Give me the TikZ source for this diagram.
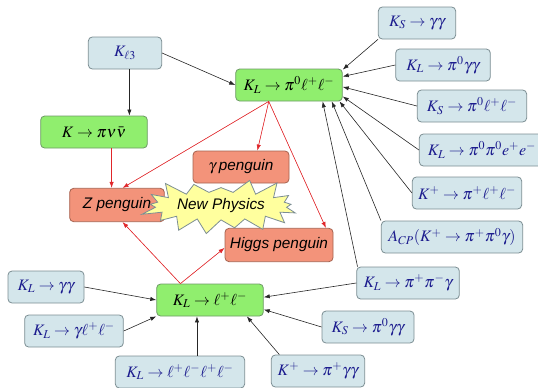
\documentclass[tikz,border=0pt]{standalone}
\usepackage{mathptmx}
\usepackage[no-math]{fontspec}
\setmainfont{Liberation Serif}
\newfontfamily\pengfont{Liberation Sans}
\usetikzlibrary{arrows.meta,shapes.symbols}
\definecolor{boxfill}{HTML}{D4E6EB}
\definecolor{boxedge}{HTML}{7C8E93}
\definecolor{kblue}{HTML}{1C1C8E}
\definecolor{greenfill}{HTML}{90EE6E}
\definecolor{greenedge}{HTML}{6E9A66}
\definecolor{salmon}{HTML}{F3937A}
\definecolor{salmonedge}{HTML}{A5624F}
\definecolor{starfill}{HTML}{FFFF9E}
\definecolor{redline}{HTML}{E0262A}
\tikzset{
  kbox/.style={draw=boxedge, fill=boxfill, text=kblue, rounded corners=3pt, line width=.6pt, minimum height=24pt, inner sep=2pt, font=\large},
  gbox/.style={kbox, fill=greenfill, draw=greenedge, text=black},
  pbox/.style={kbox, fill=salmon, draw=salmonedge, text=black, font=\pengfont\itshape\fontsize{11.5}{13}\selectfont},
  ar/.style={-{Latex[length=4.5pt,width=3.2pt]}, line width=.45pt, draw=black!85},
  rar/.style={ar, draw=redline, fill=redline},
}
\begin{document}
\begin{tikzpicture}[x=0.75pt,y=-0.75pt]
\useasboundingbox (0,0) rectangle (538,387);
% central decays
\node[gbox, minimum width=80pt] (klpi) at (289,85) {$K_L\to\pi^0\ell^+\ell^-$};
\node[gbox, minimum width=80pt] (klll) at (210,300) {$K_L\to\ell^+\ell^-$};
\node[gbox, minimum width=80pt] (kpnn) at (94,132) {$K\to\pi\nu\bar{\nu}$};
% inputs
\node[kbox, minimum width=55pt] (kl3) at (125,53) {$K_{\ell 3}$};
\node[kbox, minimum width=58pt] (ksgg) at (417,23) {$K_S\to\gamma\gamma$};
\node[kbox, minimum width=71pt] (klp0gg) at (443,65) {$K_L\to\pi^0\gamma\gamma$};
\node[kbox, minimum width=82pt] (ksp0ll) at (472,106) {$K_S\to\pi^0\ell^+\ell^-$};
\node[kbox, minimum width=94pt] (klppee) at (482,150) {$K_L\to\pi^0\pi^0e^+e^-$};
\node[kbox, minimum width=82pt] (kppll) at (467,193) {$K^+\to\pi^+\ell^+\ell^-$};
\node[kbox, minimum width=106pt] (acp) at (452,237) {$A_{CP}(K^+\to\pi^+\pi^0\gamma)$};
\node[kbox, minimum width=77pt] (klppg) at (408,283) {$K_L\to\pi^+\pi^-\gamma$};
\node[kbox, minimum width=69pt] (ksp0gg) at (368,327) {$K_S\to\pi^0\gamma\gamma$};
\node[kbox, minimum width=70pt] (kppgg) at (318,371) {$K^+\to\pi^+\gamma\gamma$};
\node[kbox, minimum width=57pt] (klgg) at (46,287) {$K_L\to\gamma\gamma$};
\node[kbox, minimum width=74pt] (klgll) at (74,331) {$K_L\to\gamma\ell^+\ell^-$};
\node[kbox, minimum width=97pt] (kl4l) at (180,372) {$K_L\to\ell^+\ell^-\ell^+\ell^-$};
% penguins
\node[pbox, minimum width=71pt, minimum height=25pt] (zpen) at (117,205) {Z penguin};
\node[pbox, minimum width=72pt] (gpen) at (241,167) {$\gamma$\,penguin};
\node[pbox, minimum width=81pt, minimum height=25pt] (hpen) at (279,245) {Higgs penguin};
% black arrows
\draw[ar] (kl3.east) -- (klpi.west);
\draw[ar] (kl3.-75) -- (kl3.-75 |- kpnn.north);
\draw[ar] (ksgg.south west) -- (klpi.16);
\draw[ar] (klp0gg.west) -- (klpi.9);
\draw[ar] (ksp0ll.west) -- (klpi.-2);
\draw[ar] (klppee.west) -- (klpi.-12);
\draw[ar] (kppll.west) -- (klpi.-18);
\draw[ar] (acp.north west) -- (klpi.-21);
\draw[ar] (klppg.162) -- (klpi.-26);
\draw[ar] (klppg.west) -- (klll.3);
\draw[ar] (ksp0gg.west) -- (klll.-10);
\draw[ar] (kppgg.157) -- (klll.-24);
\draw[ar] (kl4l.44) -- (kl4l.44 |- klll.south);
\draw[ar] (klgg.east) -- (klll.west);
\draw[ar] (klgll.east) -- (klll.south west);
% red arrows
\draw[rar] (kpnn.-43) -- (kpnn.-43 |- zpen.north);
\draw[rar] (klpi.219) -- (zpen.72);
\draw[rar] (klpi.219) -- (gpen.45);
\draw[rar] (klpi.219) -- (hpen.20);
\draw[rar] (klll.151) -- (zpen.-72);
\draw[rar] (klll.151) -- (hpen.183);
% new physics
\node[starburst, starburst points=17, starburst point height=13pt, random starburst=23,
  draw=boxedge, fill=starfill, line width=.6pt, inner xsep=2pt, inner ysep=2pt,
  font=\pengfont\itshape\fontsize{11.5}{13}\selectfont] (np) at (221,206) {New Physics};
\end{tikzpicture}
\end{document}
